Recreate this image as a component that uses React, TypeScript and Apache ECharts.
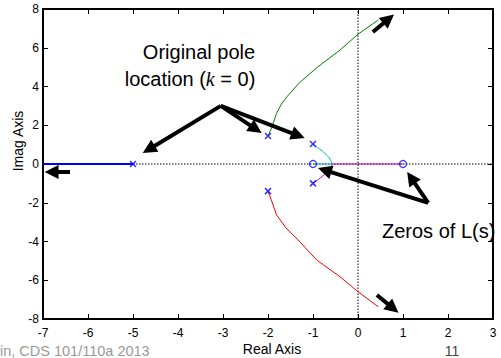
import React, { useEffect, useRef } from "react";
import * as echarts from "echarts";

// Root locus data (real, imag)
const poles: number[][] = [[-5, 0], [-2, 1.45], [-2, -1.4], [-1, 1.03], [-1, -1.0]];
const zeros: number[][] = [[-1, 0], [1, 0]];
const branchBlue: number[][] = [[-5, 0], [-7, 0]];
const branchGreen: number[][] = [
  [-2, 1.45], [-1.92, 1.86], [-1.81, 2.62], [-1.7, 3.1], [-1.58, 3.47], [-1.3, 4.2],
  [-0.9, 5.0], [-0.4, 5.88], [0, 6.7], [0.45, 7.43],
];
const branchRed: number[][] = [
  [-2, -1.4], [-1.92, -1.9], [-1.81, -2.63], [-1.6, -3.3], [-1.33, -3.92], [-0.92, -4.95],
  [-0.4, -5.82], [0, -6.59], [0.45, -7.37],
];
const branchCyan: number[][] = [
  [-1, 1.03], [-0.9, 0.85], [-0.77, 0.63], [-0.65, 0.35], [-0.59, 0.12], [-0.58, 0], [-1, 0],
];
const branchMagenta: number[][] = [
  [-1, -1.0], [-0.88, -0.8], [-0.75, -0.55], [-0.63, -0.3], [-0.58, -0.1], [-0.58, 0], [1, 0],
];
// Annotation arrows (tail, head centre) in data units
const arrows: number[][][] = [
  [[-3.05, 3.0], [-4.65, 0.75]],
  [[-3.05, 3.0], [-2.27, 1.8]],
  [[-3.05, 3.0], [-1.33, 1.47]],
  [[1.56, -2.01], [1.18, -0.71]],
  [[1.56, -2.01], [-0.74, -0.32]],
  [[0.33, 6.81], [0.68, 7.49]],
  [[0.42, -6.76], [0.78, -7.45]],
  [[-6.4, -0.41], [-6.81, -0.41]],
];
const xTicks = [-7, 3, 1];
const yTicks = [-8, 8, 2];

const FONT = "Liberation Sans, Arial, sans-serif";

export default function App() {
  const ref = useRef<HTMLDivElement>(null);
  useEffect(() => {
    const chart = echarts.init(ref.current!, null, { renderer: "svg" });
    const axisLine = { show: true, onZero: false, lineStyle: { color: "#000", width: 2 } };
    const tick = { show: true, inside: true, length: 5, lineStyle: { color: "#000", width: 1 } };
    const lineSeries = (data: number[][], color: string, width = 1) => ({
      type: "line",
      data,
      showSymbol: false,
      symbol: "none",
      lineStyle: { color, width },
      z: 3,
    });
    chart.setOption({
      animation: false,
      grid: { left: 43, right: 8, top: 9, bottom: 39, containLabel: false },
      xAxis: [
        {
          type: "value", min: xTicks[0], max: xTicks[1], interval: xTicks[2],
          axisLine, axisTick: tick, splitLine: { show: false },
          axisLabel: { color: "#000", fontSize: 12, fontFamily: FONT, margin: 8 },
        },
        {
          type: "value", position: "top", min: xTicks[0], max: xTicks[1], interval: xTicks[2],
          axisLine, axisTick: tick, splitLine: { show: false }, axisLabel: { show: false },
        },
      ],
      yAxis: [
        {
          type: "value", min: yTicks[0], max: yTicks[1], interval: yTicks[2],
          axisLine, axisTick: tick, splitLine: { show: false },
          axisLabel: { color: "#000", fontSize: 12, fontFamily: FONT, margin: 4 },
        },
        {
          type: "value", position: "right", min: yTicks[0], max: yTicks[1], interval: yTicks[2],
          axisLine, axisTick: tick, splitLine: { show: false }, axisLabel: { show: false },
        },
      ],
      series: [
        {
          type: "line", data: [[-7, 0], [3, 0]], symbol: "none",
          lineStyle: { color: "#000", width: 1, type: [1.5, 1.5] }, z: 1,
        },
        {
          type: "line", data: [[0, -8], [0, 8]], symbol: "none",
          lineStyle: { color: "#000", width: 1, type: [1.5, 1.5] }, z: 1,
        },
        lineSeries(branchBlue, "#0000ff", 2),
        lineSeries(branchGreen, "#008000"),
        lineSeries(branchRed, "#ff0000"),
        lineSeries(branchCyan, "#00bfbf"),
        lineSeries(branchMagenta, "#bf00bf"),
        {
          type: "scatter", data: poles, symbol: "path://M0,0L10,10M0,10L10,0", symbolSize: 6,
          itemStyle: { color: "none", borderColor: "#0000ff", borderWidth: 1.5 }, z: 4,
        },
        {
          type: "scatter", data: zeros, symbol: "circle", symbolSize: 7,
          itemStyle: { color: "none", borderColor: "#0000ff", borderWidth: 1.3 }, z: 4,
        },
        {
          type: "lines", coordinateSystem: "cartesian2d", z: 5,
          symbol: ["none", "triangle"], symbolSize: 14,
          lineStyle: { color: "#000", width: 4, opacity: 1 },
          itemStyle: { color: "#000" },
          data: arrows.map((a) => ({ coords: a })),
        },
      ],
      graphic: [
        {
          type: "text", x: 199, y: 52,
          style: { text: "Original pole", font: `20px ${FONT}`, fill: "#000", textAlign: "center", textVerticalAlign: "middle" },
        },
        {
          type: "text", x: 190, y: 79,
          style: {
            text: "{n|location (}{k|k}{n| = 0)}",
            textAlign: "center", textVerticalAlign: "middle",
            rich: {
              n: { fontSize: 20, fontFamily: FONT, fill: "#000" },
              k: { fontSize: 20, fontFamily: "Liberation Serif, serif", fontStyle: "italic", fill: "#000" },
            },
          },
        },
        {
          type: "text", x: 382, y: 231,
          style: { text: "Zeros of L(s)", font: `20px ${FONT}`, fill: "#000", textAlign: "left", textVerticalAlign: "middle" },
        },
        {
          type: "text", x: 272, y: 349,
          style: { text: "Real Axis", font: `14px ${FONT}`, fill: "#000", textAlign: "center", textVerticalAlign: "middle" },
        },
        {
          type: "text", x: 18, y: 141, rotation: Math.PI / 2,
          style: { text: "Imag Axis", font: `14px ${FONT}`, fill: "#000", textAlign: "center", textVerticalAlign: "middle" },
        },
        {
          type: "text", x: 0, y: 351,
          style: { text: "in, CDS 101/110a 2013", font: `14.5px ${FONT}`, fill: "#999", textAlign: "left", textVerticalAlign: "middle" },
        },
        {
          type: "text", x: 452, y: 351,
          style: { text: "11", font: `14px ${FONT}`, fill: "#444", textAlign: "center", textVerticalAlign: "middle" },
        },
      ],
    });
    return () => chart.dispose();
  }, []);
  return (
    <div
      ref={ref}
      style={{ position: "fixed", left: 0, top: 0, width: 501, height: 358, background: "#fff" }}
    />
  );
}
